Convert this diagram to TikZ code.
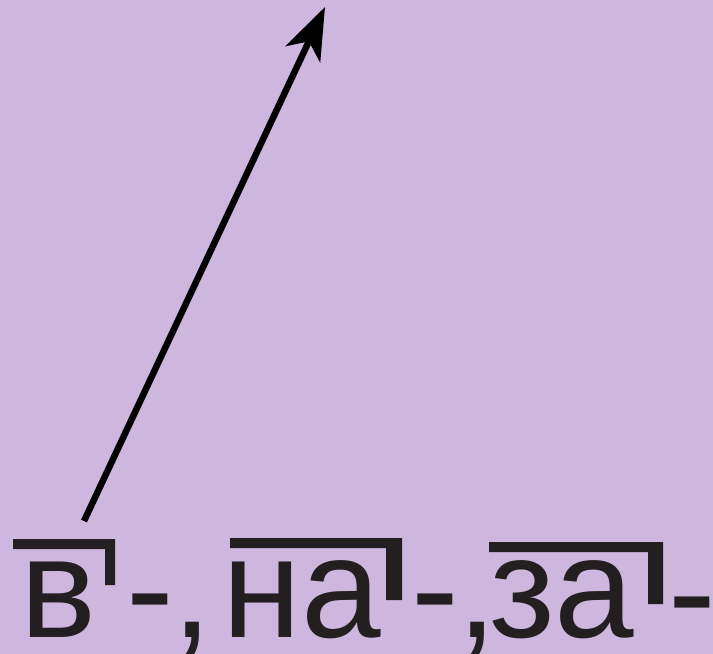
\documentclass[tikz,border=0pt]{standalone}
\usepackage{fontspec}
\setmainfont{Liberation Sans}
\usetikzlibrary{arrows.meta}
\definecolor{bg}{RGB}{205,183,222}
\definecolor{ink}{RGB}{35,31,32}
\tikzset{
  txt/.style={inner sep=0pt, anchor=base, text=ink, font=\fontsize{143pt}{143pt}\selectfont},
  prefixbar/.style={fill=ink},
  arrowline/.style={draw=black, line width=6.5pt, -{Stealth[length=52pt,width=38pt,inset=14pt]}}
}
\begin{document}
\begin{tikzpicture}[x=1pt,y=-1pt]
\path[fill=bg, use as bounding box] (0,0) rectangle (713,654);
% text
\node[txt] (v) at (58.5,637) {в};
\node[txt] (d1) at (150.5,637) {-};
\node[txt] (c1) at (192.5,637) {,};
\node[txt] (na) at (302,637) {на};
\node[txt] (d2) at (435,637) {-};
\node[txt] (c2) at (477,637) {,};
\node[txt] (za) at (562,637) {за};
\node[txt] (d3) at (692,640) {-};
% prefix marks
\fill[prefixbar] (13,539) -- (115,539) -- (115,585) -- (105,585) -- (105,549) -- (13,549) -- cycle;
\fill[prefixbar] (230,538) -- (402,538) -- (402,600) -- (386,600) -- (386,548) -- (230,548) -- cycle;
\fill[prefixbar] (489,542) -- (663,542) -- (663,604) -- (648,604) -- (648,552) -- (489,552) -- cycle;
% arrow
\coordinate (tail) at (84,521);
\coordinate (tip) at (325,7);
\draw[arrowline] (tail) -- (tip);
\end{tikzpicture}
\end{document}
